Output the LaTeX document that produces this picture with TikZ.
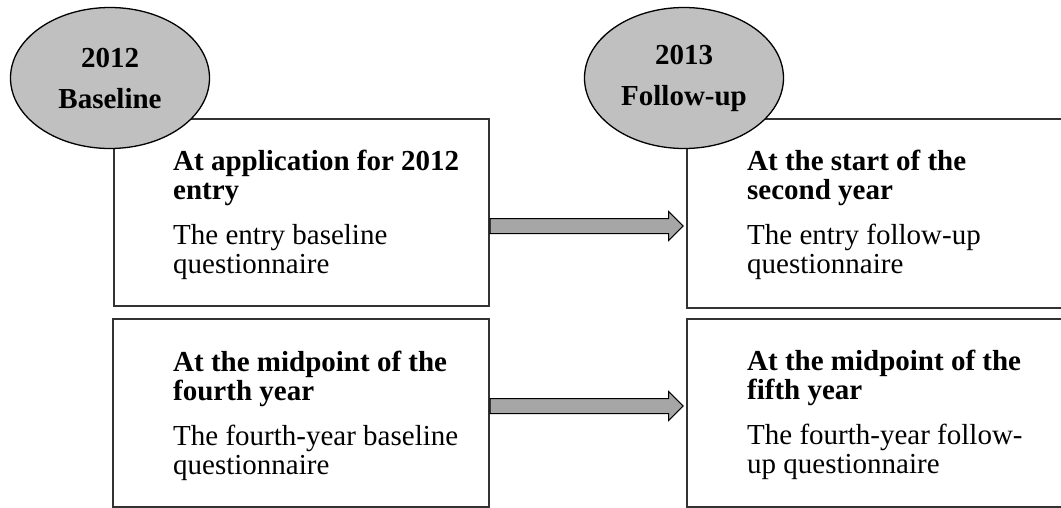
\documentclass[tikz,border=0pt]{standalone}
\usepackage{fontspec}
\setmainfont{Liberation Serif}
\usetikzlibrary{shapes.geometric, shapes.arrows}
\definecolor{ovalgray}{HTML}{C0C0C0}
\definecolor{arrowgray}{HTML}{A6A6A6}
\newcommand{\bigsize}{\fontsize{29}{29}\selectfont}

\begin{document}
\begin{tikzpicture}[x=1pt, y=-1pt,
  box/.style={draw=black!80, line width=1.6pt, rectangle, anchor=north west, inner sep=0pt},
  oval/.style={draw, line width=1.3pt, fill=ovalgray, ellipse, inner sep=0pt,
    minimum width=199pt, minimum height=141pt, align=center,
    font=\fontsize{29}{41}\selectfont\bfseries},
  txt/.style={anchor=north west, inner sep=0pt, align=left, font=\bigsize},
  fwd/.style={single arrow, draw, line width=1pt, fill=arrowgray,
    single arrow tip angle=90, single arrow head extend=7pt,
    inner sep=7pt, minimum height=193pt, anchor=tail}]

  \useasboundingbox (0,0) rectangle (1061,507);

  % boxes
  \node[box, minimum width=375pt, minimum height=187pt] (b1) at (113,118) {};
  \node[box, minimum width=384pt, minimum height=189pt] (b2) at (686,118) {};
  \node[box, minimum width=376pt, minimum height=188pt] (b3) at (112,318) {};
  \node[box, minimum width=384pt, minimum height=188pt] (b4) at (686,318) {};

  % texts
  \node[txt] (t1) at (173,150)
    {\textbf{At application for 2012}\\\textbf{entry}\\[16pt]The entry baseline\\questionnaire};
  \node[txt] (t2) at (747,150)
    {\textbf{At the start of the}\\\textbf{second year}\\[16pt]The entry follow-up\\questionnaire};
  \node[txt] (t3) at (173,351)
    {\textbf{At the midpoint of the}\\\textbf{fourth year}\\[16pt]The fourth-year baseline\\questionnaire};
  \node[txt] (t4) at (747,350)
    {\textbf{At the midpoint of the}\\\textbf{fifth year}\\[16pt]The fourth-year follow-\\up questionnaire};

  % waves
  \node[oval] (w1) at (110,78) {2012\\Baseline};
  \node[oval] (w2) at (684,78) {2013\\Follow-up};

  % arrows
  \node[fwd] (a1) at (b1.east |- 0,226) {};
  \node[fwd] (a2) at (b3.east |- 0,406) {};
\end{tikzpicture}
\end{document}
